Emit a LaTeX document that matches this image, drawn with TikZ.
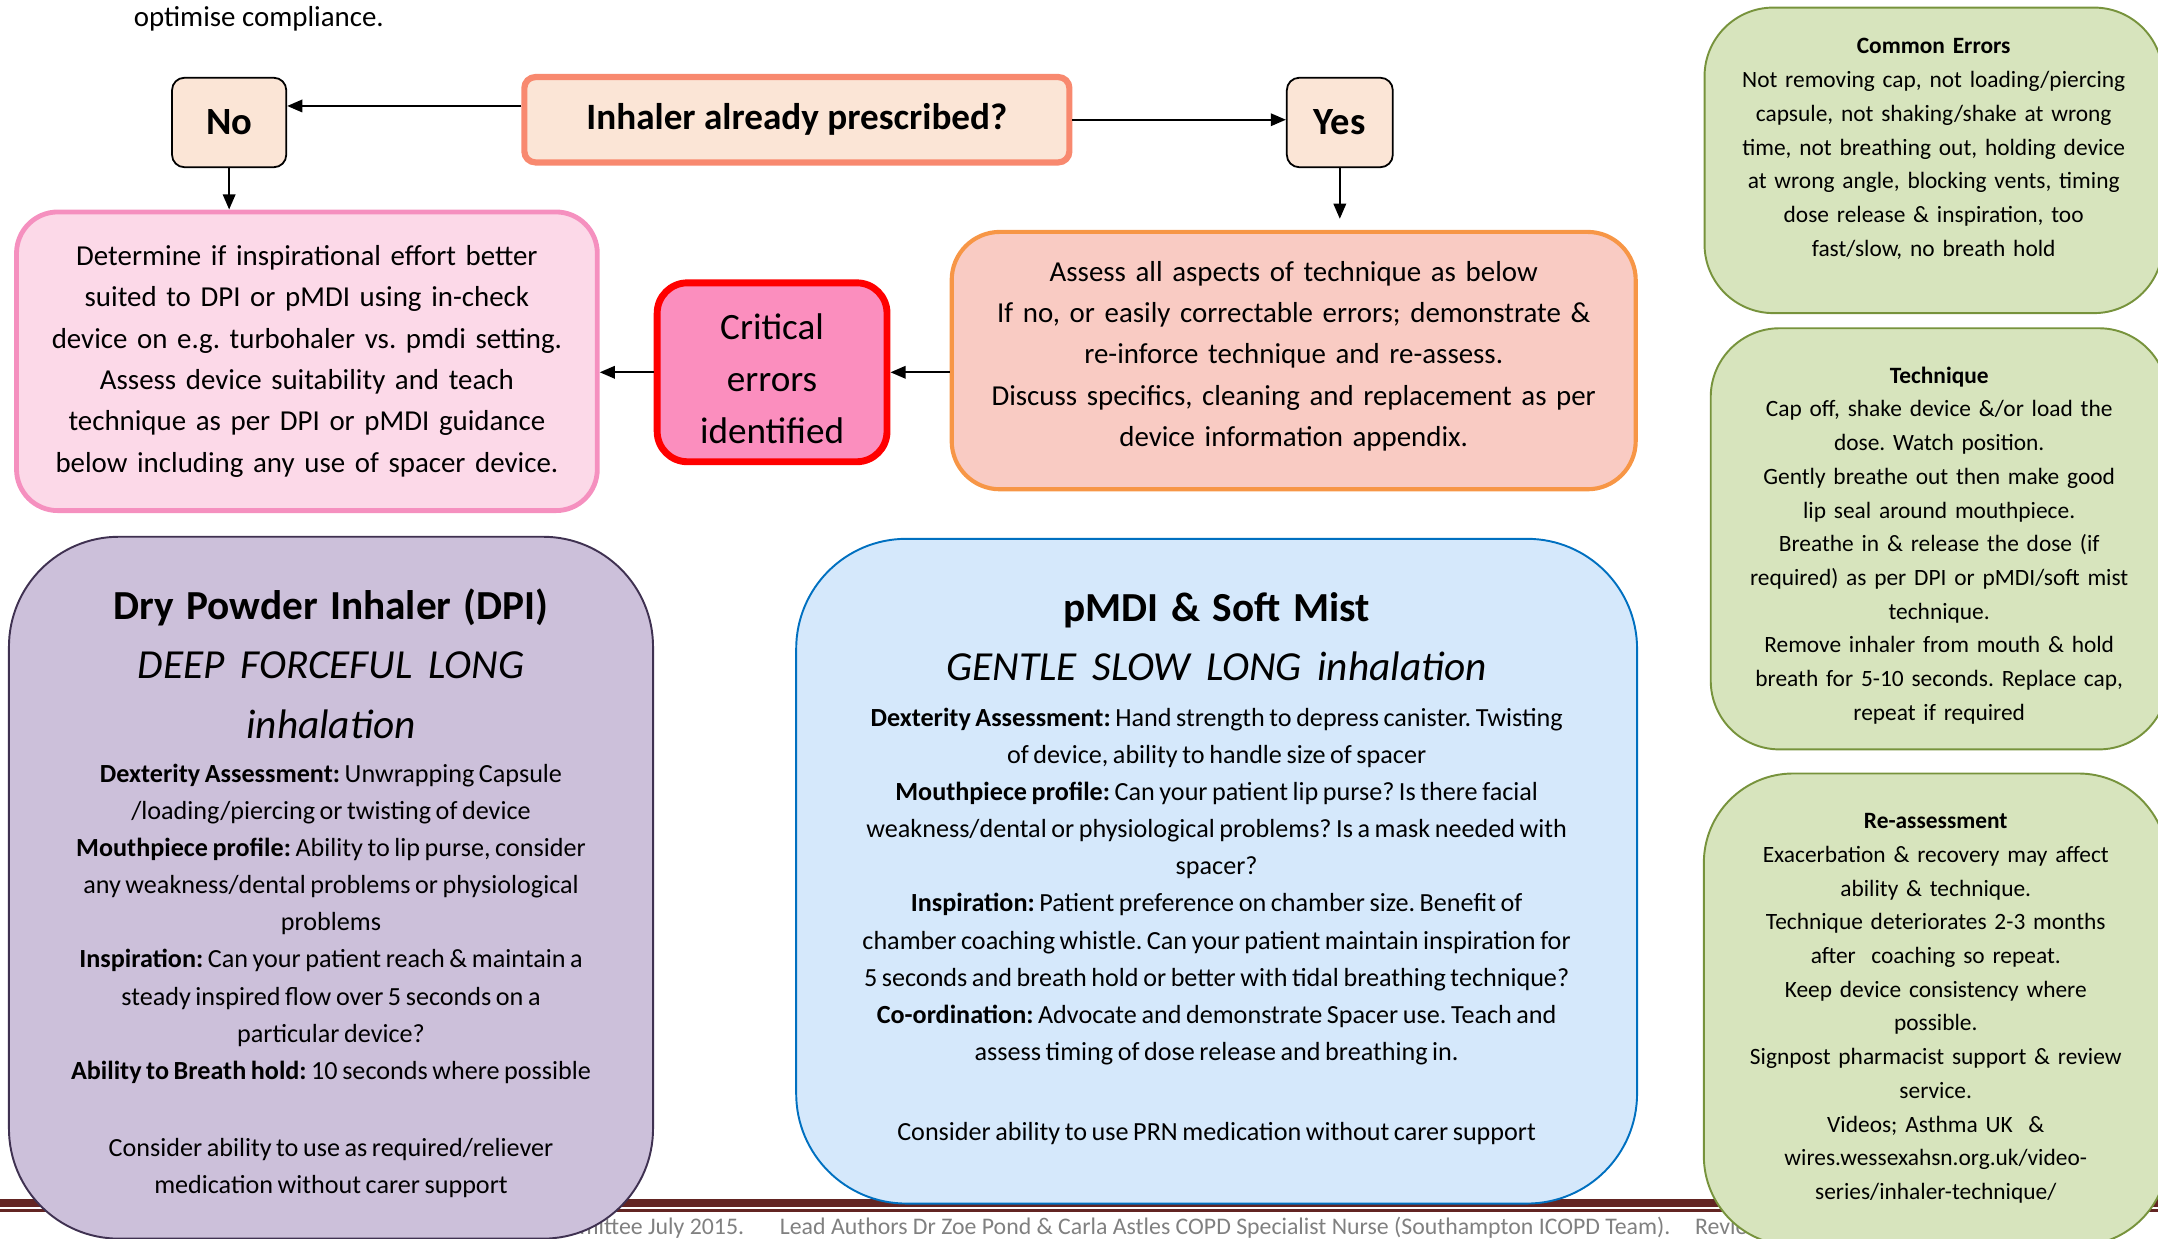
\documentclass[tikz,border=0pt]{standalone}
\usepackage{fontspec}
\setmainfont{Carlito}
\usetikzlibrary{arrows.meta, positioning}
\definecolor{peach}{HTML}{FBE5D6}
\definecolor{askline}{HTML}{F8896F}
\definecolor{pinkfill}{HTML}{FCD9E8}
\definecolor{pinkline}{HTML}{F590BF}
\definecolor{critfill}{HTML}{FB8EBE}
\definecolor{critline}{HTML}{FF0000}
\definecolor{assessfill}{HTML}{F9CBC3}
\definecolor{assessline}{HTML}{F79646}
\definecolor{dpifill}{HTML}{CCC0DA}
\definecolor{dpiline}{HTML}{3F3151}
\definecolor{pmdifill}{HTML}{D5E8FB}
\definecolor{pmdiline}{HTML}{0070C0}
\definecolor{tipfill}{HTML}{D7E4BD}
\definecolor{tipline}{HTML}{77933C}
\definecolor{footline}{HTML}{632523}
\definecolor{footgray}{HTML}{808080}
\newcommand{\headfont}{\fontsize{30}{44}\selectfont\bfseries\spaceskip=0.3em}
\newcommand{\subfont}{\fontsize{30}{43}\selectfont\itshape\spaceskip=0.38em}
\newcommand{\bodyfont}{\fontsize{19}{27}\selectfont}
\frenchspacing
\tikzset{
  flow/.style={line width=1.6pt, -{Triangle[length=11pt,width=9pt]}},
  choice/.style={draw=black, fill=peach, line width=1.3pt, rounded corners=9pt,
    minimum width=83pt, minimum height=65pt, inner sep=0pt,
    font=\fontsize{28}{34}\selectfont\bfseries},
  bigbox/.style={line width=1.4pt, rounded corners=80pt, inner sep=0pt},
  tipbox/.style={draw=tipline, fill=tipfill, line width=1.4pt, rounded corners=50pt, inner sep=0pt},
  tiptext/.style={text width=325pt, align=center, inner sep=0pt, font=\fontsize{17}{24.5}\selectfont},
}

\begin{document}
\begin{tikzpicture}[x=1pt, y=-1pt]
  \useasboundingbox (0,0) rectangle (1568,900);
  \clip (0,0) rectangle (1568,900);

  % footer rule and text, partly hidden behind the boxes
  \fill[footline] (0,871) rectangle (1568,876.8);
  \fill[footline] (0,878.5) rectangle (1568,880.5);
  \node[anchor=base west, inner sep=0pt, text=footgray, font=\fontsize{17.3}{20}\selectfont] (foot) at (421,897)
    {mittee July 2015.\hspace{26pt}Lead Authors Dr Zoe Pond \& Carla Astles COPD Specialist Nurse (Southampton ICOPD Team).\hspace{18pt}Revie};
  \node[anchor=base west, inner sep=0pt, font=\fontsize{21}{25}\selectfont] (intro) at (97,19) {optimise compliance.};

  % question and answers
  \node[draw=askline, fill=peach, line width=4.5pt, rounded corners=8pt,
        minimum width=396pt, minimum height=62pt,
        font=\fontsize{27}{32}\selectfont\bfseries] (ask) at (579,87) {Inhaler already prescribed?};
  \node[choice] (no) at (166.5,89) {No};
  \node[choice, minimum width=77pt] (yes) at (973.5,89) {Yes};

  % second row
  \node[draw=pinkline, fill=pinkfill, line width=3.5pt, rounded corners=30pt,
        minimum width=422pt, minimum height=217pt, text width=410pt, align=center,
        inner sep=0pt, font=\fontsize{21}{30}\selectfont] (pick) at (223,262.5) {
    Determine if inspirational effort better\\
    suited to DPI or pMDI using in-check\\
    device on e.g. turbohaler vs. pmdi setting.\\
    Assess device suitability and teach\\
    technique as per DPI or pMDI guidance\\
    below including any use of spacer device.
  };
  \node[draw=critline, fill=critfill, line width=5pt, rounded corners=22pt,
        minimum width=167pt, minimum height=130pt, text width=160pt, align=center,
        inner sep=0pt, font=\fontsize{27}{38}\selectfont] (crit) at (561,270.5)
    {\rule{0pt}{28pt}Critical\\errors\\identified};
  \node[draw=assessline, fill=assessfill, line width=3pt, rounded corners=35pt,
        minimum width=497pt, minimum height=187pt, text width=485pt, align=center,
        inner sep=0pt, font=\fontsize{21}{30}\selectfont] (assess) at (940,262) {
    Assess all aspects of technique as below\\
    If no, or easily correctable errors; demonstrate \&\\
    re-inforce technique and re-assess.\\
    Discuss specifics, cleaning and replacement as per\\
    device information appendix.\rule[-10pt]{0pt}{10pt}
  };

  % device boxes
  \node[bigbox, draw=dpiline, fill=dpifill, minimum width=468pt, minimum height=510pt] (dpi) at (240.5,645) {};
  \node[below=38.5pt of dpi.north, text width=460pt, align=center, inner sep=0pt] (dpitxt) {
    {\headfont Dry Powder Inhaler (DPI)\par}
    {\subfont DEEP FORCEFUL LONG\\inhalation\par}
    \vspace{5pt}
    {\bodyfont \textbf{Dexterity Assessment:} Unwrapping Capsule\\
    /loading/piercing or twisting of device\\
    \textbf{Mouthpiece profile:} Ability to lip purse, consider\\
    any weakness/dental problems or physiological\\
    problems\\
    \textbf{Inspiration:} Can your patient reach \& maintain a\\
    steady inspired flow over 5 seconds on a\\
    particular device?\\
    \textbf{Ability to Breath hold:} 10 seconds where possible\\[29pt]
    Consider ability to use as required/reliever\\
    medication without carer support\par}
  };
  \node[bigbox, draw=pmdiline, fill=pmdifill, minimum width=611pt, minimum height=483pt] (pmdi) at (884,633) {};
  \node[below=39.5pt of pmdi.north, text width=600pt, align=center, inner sep=0pt] (pmditxt) {
    {\headfont pMDI \& Soft Mist\par}
    {\subfont GENTLE SLOW LONG inhalation\par}
    \vspace{6pt}
    {\bodyfont \textbf{Dexterity Assessment:} Hand strength to depress canister. Twisting\\
    of device, ability to handle size of spacer\\
    \textbf{Mouthpiece profile:} Can your patient lip purse? Is there facial\\
    weakness/dental or physiological problems? Is a mask needed with\\
    spacer?\\
    \textbf{Inspiration:} Patient preference on chamber size. Benefit of\\
    chamber coaching whistle. Can your patient maintain inspiration for\\
    5 seconds and breath hold or better with tidal breathing technique?\\
    \textbf{Co-ordination:} Advocate and demonstrate Spacer use. Teach and\\
    assess timing of dose release and breathing in.\\[31pt]
    Consider ability to use PRN medication without carer support\par}
  };

  % tips column
  \node[tipbox, minimum width=333pt, minimum height=222pt] (errs) at (1405,116.5) {};
  \node[tiptext, below=23pt of errs.north] (errstxt) {
    \textbf{Common Errors}\\
    Not removing cap, not loading/piercing\\
    capsule, not shaking/shake at wrong\\
    time, not breathing out, holding device\\
    at wrong angle, blocking vents, timing\\
    dose release \& inspiration, too\\
    fast/slow, no breath hold
  };
  \node[tipbox, minimum width=332pt, minimum height=306pt] (tech) at (1409,391.5) {};
  \node[tiptext, below=28.5pt of tech.north] (techtxt) {
    \textbf{Technique}\\
    Cap off, shake device \&/or load the\\
    dose. Watch position.\\
    Gently breathe out then make good\\
    lip seal around mouthpiece.\\
    Breathe in \& release the dose (if\\
    required) as per DPI or pMDI/soft mist\\
    technique.\\
    Remove inhaler from mouth \& hold\\
    breath for 5-10 seconds. Replace cap,\\
    repeat if required
  };
  \node[tipbox, rounded corners=65pt, minimum width=337pt, minimum height=343pt] (reass) at (1406.5,733.5) {};
  \node[tiptext, below=29.5pt of reass.north] (reasstxt) {
    \textbf{Re-assessment}\\
    Exacerbation \& recovery may affect\\
    ability \& technique.\\
    Technique deteriorates 2-3 months\\
    after\ \ coaching so repeat.\\
    Keep device consistency where\\
    possible.\\
    Signpost pharmacist support \& review\\
    service.\\
    Videos; Asthma UK\ \ \&\\
    wires.wessexahsn.org.uk/video-\\
    series/inhaler-technique/
  };

  % connectors
  \draw[flow] ([yshift=10pt]ask.west) -- ([yshift=10pt]ask.west -| no.east);
  \draw[flow] (ask.east) -- (ask.east -| yes.west);
  \draw[flow] (no.south) -- (no.south |- pick.north);
  \draw[flow, shorten >=8pt] (yes.south) -- (yes.south |- assess.north);
  \draw[flow] (crit.east -| assess.west) -- (crit.east);
  \draw[flow] (crit.west) -- (crit.west -| pick.east);
\end{tikzpicture}
\end{document}
